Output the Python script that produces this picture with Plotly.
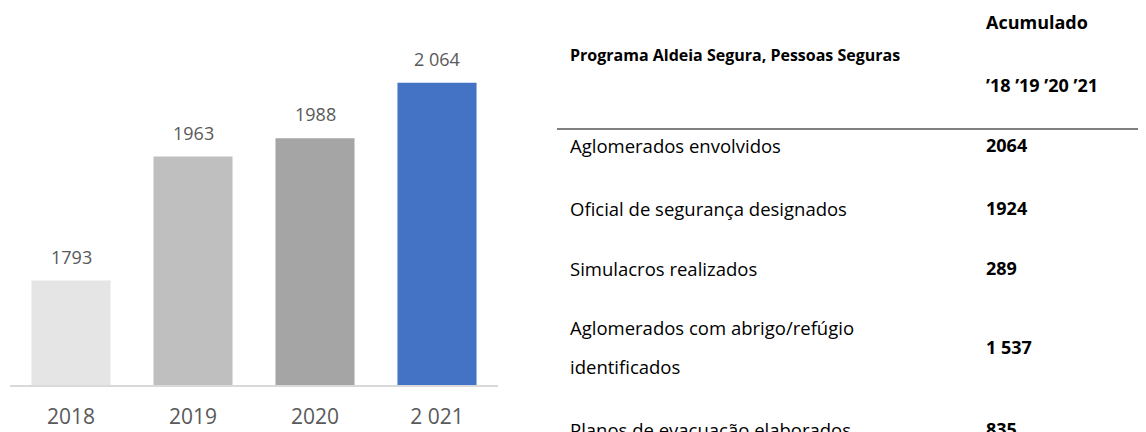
import plotly.graph_objects as go

# ---- data ----
years = ["2018", "2019", "2020", "2 021"]
values = [1793, 1963, 1988, 2064]
value_labels = ["1793", "1963", "1988", "2 064"]
bar_colors = ["#e5e5e5", "#bfbfbf", "#a5a5a5", "#4472c4"]

table_title = "Programa Aldeia Segura, Pessoas Seguras"
table_col_head = ["Acumulado", "’18 ’19 ’20 ’21"]
row_labels = [
    ["Aglomerados envolvidos"],
    ["Oficial de segurança designados"],
    ["Simulacros realizados"],
    ["Aglomerados com abrigo/refúgio", "identificados"],
    ["Planos de evacuação elaborados"],
]
row_values = ["2064", "1924", "289", "1 537", "835"]

# ---- layout helpers ----
OFF = 8                      # page body margin
W, H = 1146 - OFF, 432 - OFF
FONT = "Open Sans"


def px(x):
    return (x - OFF) / W


def py(y):
    return 1 - (y - OFF) / H


xpos = list(range(len(years)))

fig = go.Figure()
fig.add_trace(go.Bar(
    x=xpos, y=values,
    marker=dict(color=bar_colors, line=dict(width=0)),
    width=[0.648] * len(years),
    hovertext=years, hoverinfo="text+y",
))

annotations = []
for xi, v, lab in zip(xpos, values, value_labels):
    annotations.append(dict(
        x=xi, y=v, xref="x", yref="y", text=lab, showarrow=False,
        xanchor="center", yanchor="bottom", yshift=10,
        font=dict(family=FONT, size=18, color="#595959"),
    ))

TX = 568     # left of label column
VX = 984     # left of value column

# table header
annotations.append(dict(x=px(TX), y=py(55), xref="paper", yref="paper",
                        text="<b>%s</b>" % table_title, showarrow=False,
                        xanchor="left", yanchor="middle",
                        font=dict(family=FONT, size=16, color="#000000")))
annotations.append(dict(x=px(VX), y=py(22), xref="paper", yref="paper",
                        text="<b>%s</b>" % table_col_head[0], showarrow=False,
                        xanchor="left", yanchor="middle",
                        font=dict(family=FONT, size=18, color="#000000")))
annotations.append(dict(x=px(VX), y=py(85), xref="paper", yref="paper",
                        text="<b>%s</b>" % table_col_head[1], showarrow=False,
                        xanchor="left", yanchor="middle",
                        font=dict(family=FONT, size=18, color="#000000")))

# table rows (pixel centres of each row)
row_centres = [145, 208, 268, 347, 429]
line_gap = 39
for lines, val, cy in zip(row_labels, row_values, row_centres):
    n = len(lines)
    for i, t in enumerate(lines):
        ly = cy - (n - 1) * line_gap / 2 + i * line_gap
        annotations.append(dict(x=px(TX), y=py(ly), xref="paper", yref="paper",
                                text=t, showarrow=False,
                                xanchor="left", yanchor="middle",
                                font=dict(family=FONT, size=18.5, color="#000000")))
    annotations.append(dict(x=px(VX), y=py(cy), xref="paper", yref="paper",
                            text="<b>%s</b>" % val, showarrow=False,
                            xanchor="left", yanchor="middle",
                            font=dict(family=FONT, size=18, color="#000000")))

fig.update_layout(
    width=W, height=H,
    margin=dict(l=0, r=0, t=0, b=0),
    paper_bgcolor="white", plot_bgcolor="white",
    showlegend=False,
    annotations=annotations,
    shapes=[dict(type="line", xref="paper", yref="paper",
                 x0=px(557), x1=1, y0=py(129), y1=py(129),
                 line=dict(color="#000000", width=1))],
    xaxis=dict(type="linear", domain=[px(10), px(498)], range=[-0.5, 3.5],
               tickmode="array", tickvals=xpos, ticktext=years,
               showgrid=False, zeroline=False,
               showline=True, linecolor="#d9d9d9", linewidth=2,
               ticks="", ticklabelstandoff=12,
               tickfont=dict(family=FONT, size=21, color="#595959"),
               automargin=False),
    yaxis=dict(type="linear", domain=[py(385), py(20)], range=[1650, 2150],
               visible=False, showgrid=False, zeroline=False,
               automargin=False),
)

fig.write_html("out.html")
